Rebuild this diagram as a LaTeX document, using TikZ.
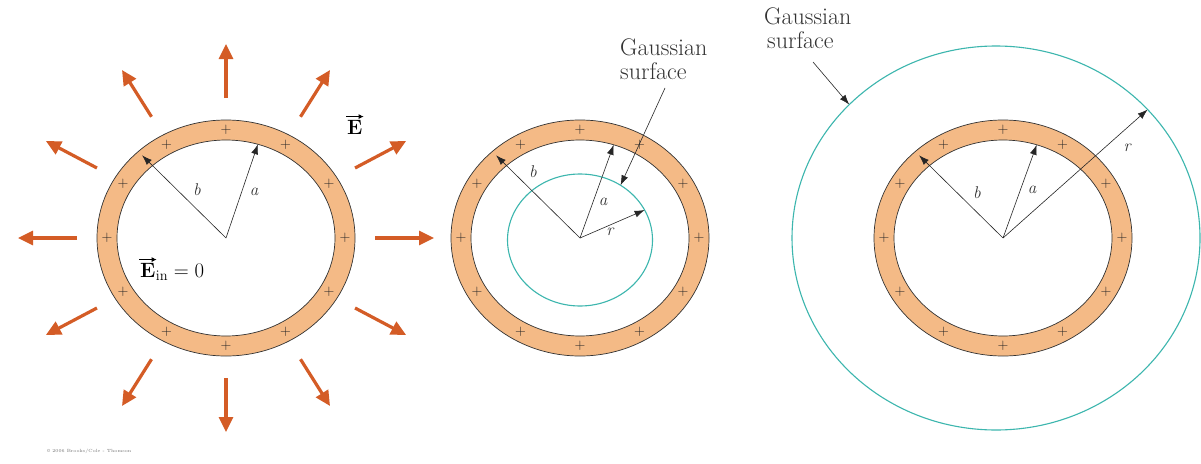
\documentclass[tikz,border=0pt]{standalone}
\usetikzlibrary{arrows.meta,calc}
\definecolor{shellc}{RGB}{244,186,134}
\definecolor{fieldc}{RGB}{212,92,38}
\definecolor{gaussc}{RGB}{60,182,174}
\tikzset{
  ring/.style={draw=black!80,line width=0.7pt},
  fieldarrow/.style={draw=fieldc,line width=3.2pt,-{Triangle[length=15pt,width=14pt]}},
  radarrow/.style={draw=black!85,line width=0.6pt,-{Latex[length=10pt,width=7pt]}},
  vecarrow/.style={draw=black,line width=1pt,-{Latex[length=5pt,width=5pt]}},
  gsurf/.style={draw=gaussc,line width=1.1pt},
  lbl/.style={font=\fontsize{17}{17}\selectfont\itshape,inner sep=0pt,text=black!80},
  plussign/.style={font=\fontsize{15}{15}\selectfont,inner sep=0pt,text=black!85},
  captxt/.style={font=\fontsize{24}{24}\selectfont,inner sep=0pt,anchor=base west,text=black!80},
  vecE/.style={font=\fontsize{22}{22}\selectfont,inner sep=0pt,anchor=base west},
  pics/shell/.style={code={
    \fill[shellc,even odd rule] (0,0) ellipse[x radius=129pt,y radius=118pt]
                                (0,0) ellipse[x radius=109pt,y radius=98pt];
    \draw[ring] (0,0) ellipse[x radius=129pt,y radius=118pt];
    \draw[ring] (0,0) ellipse[x radius=109pt,y radius=98pt];
    \foreach \t in {0,30,...,330}
      \node[plussign] (-p\t) at (\t:119pt and 108pt) {+};
  }}
}
\begin{document}
\begin{tikzpicture}[x=1pt,y=-1pt]
\useasboundingbox (0,0) rectangle (1201,463);
\fill[white] (0,0) rectangle (1201,463);

% ---------- left shell ----------
\coordinate (cL) at (226,238);
\pic (L) at (cL) {shell};
\foreach \t in {0,30,...,330}{
  \coordinate (fs\t) at ($(cL)+(\t:149pt and 140pt)$);
  \coordinate (fe\t) at ($(cL)+(\t:208pt and 194pt)$);
  \draw[fieldarrow] (fs\t) -- (fe\t);
}
\coordinate (bL) at ($(cL)+(133:123pt and 113pt)$);
\coordinate (aL) at ($(cL)+(73:109pt and 98pt)$);
\draw[radarrow] (cL) -- (bL);
\draw[radarrow] (cL) -- (aL);
\node[lbl] (lbL) at (197,190) {b};
\node[lbl] (laL) at (254,192) {a};
\node[vecE] (E) at (347,134) {$\mathbf{E}$};
\draw[vecarrow] ([yshift=3pt,xshift=-1pt]E.north west) -- ([yshift=3pt,xshift=1pt]E.north east);
\node[vecE] (Ein) at (140,277) {$\mathbf{E}$};
\draw[vecarrow] ([yshift=3pt,xshift=-1pt]Ein.north west) -- ([yshift=3pt,xshift=1pt]Ein.north east);
\node[vecE] (Einr) at (Ein.base east) {$\vphantom{\mathbf{E}}_{\mathrm{in}} = 0$};

% ---------- middle shell ----------
\coordinate (cM) at (580,238);
\coordinate (gM) at (580,240);
\pic (M) at (cM) {shell};
\draw[gsurf] (gM) ellipse[x radius=72.5pt,y radius=66pt];
\coordinate (bM) at ($(cM)+(133:123pt and 113pt)$);
\coordinate (aM) at ($(cM)+(72:109pt and 98pt)$);
\coordinate (rM) at ($(gM)+(27:72.5pt and 66pt)$);
\draw[radarrow] (cM) -- (bM);
\draw[radarrow] (cM) -- (aM);
\draw[radarrow] (cM) -- (rM);
\node[lbl] (lbM) at (533,172) {b};
\node[lbl] (laM) at (603,202) {a};
\node[lbl] (lrM) at (610,232) {r};
\node[captxt] (gm1) at (620,55) {Gaussian};
\node[captxt] (gm2) at (620,79) {surface};
\coordinate (gmS) at (665,88);
\coordinate (gmT) at ($(gM)+(56:72.5pt and 66pt)$);
\draw[radarrow] (gmS) -- (gmT);

% ---------- right shell ----------
\coordinate (cR) at (1003,238);
\coordinate (gR) at (996,238);
\pic (R) at (cR) {shell};
\draw[gsurf] (gR) ellipse[x radius=204pt,y radius=192pt];
\coordinate (bR) at ($(cR)+(133:123pt and 113pt)$);
\coordinate (aR) at ($(cR)+(72:109pt and 98pt)$);
\coordinate (rR) at ($(gR)+(42:204pt and 192pt)$);
\draw[radarrow] (cR) -- (bR);
\draw[radarrow] (cR) -- (aR);
\draw[radarrow] (cR) -- (rR);
\node[lbl] (lbR) at (977,193) {b};
\node[lbl] (laR) at (1032,190) {a};
\node[lbl] (lrR) at (1127,148) {r};
\node[captxt] (gr1) at (764,24) {Gaussian};
\node[captxt] (gr2) at (767,48) {surface};
\coordinate (grS) at (813,62);
\coordinate (grT) at ($(gR)+(136:204pt and 192pt)$);
\draw[radarrow] (grS) -- (grT);

% ---------- credit ----------
\node[font=\fontsize{4.5}{5}\selectfont,anchor=west,inner sep=0pt,text=black!55] (cred) at (47,451) {\copyright\ 2006 Brooks/Cole - Thomson};
\end{tikzpicture}
\end{document}
